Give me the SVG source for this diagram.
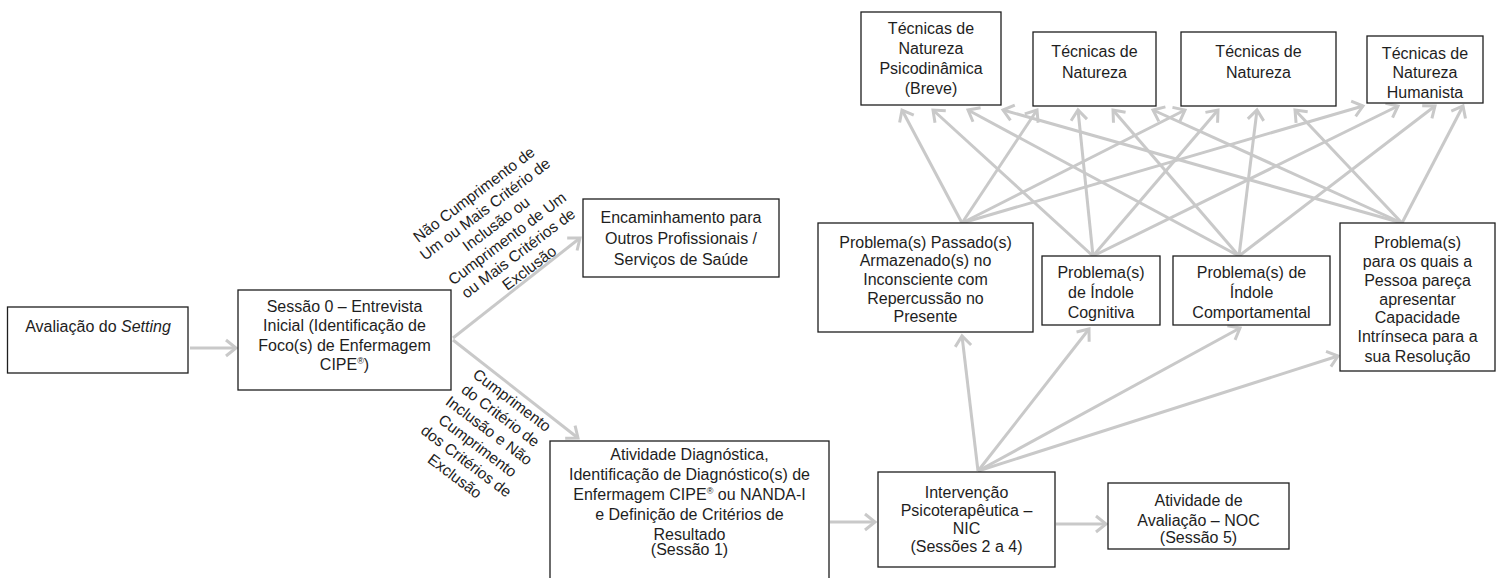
<svg xmlns="http://www.w3.org/2000/svg" width="1504" height="578" viewBox="0 0 1504 578">
<style>
.box{fill:#ffffff;stroke:#1e1e1e;stroke-width:1.3}
.t{font-family:"Liberation Sans",Arial,sans-serif;font-size:16px;fill:#1e1e1e;text-anchor:middle}
.lb{font-family:"Liberation Sans",Arial,sans-serif;font-size:15.5px;fill:#1e1e1e;text-anchor:middle}
.c{fill:none;stroke:#c9c9c9;stroke-width:3;marker-end:url(#ah)}
</style>
<defs>
<marker id="ah" markerUnits="userSpaceOnUse" markerWidth="16" markerHeight="22" viewBox="-13 -11 16 22" refX="0" refY="0" orient="auto">
<path d="M-10,-8 L0,0 L-10,8" fill="none" stroke="#c9c9c9" stroke-width="3"/>
</marker>
</defs>
<rect x="0" y="0" width="1504" height="578" fill="#ffffff"/>
<g id="connectors">
<line class="c" x1="190" y1="348" x2="236" y2="348"/>
<line class="c" x1="453" y1="338" x2="580" y2="238"/>
<line class="c" x1="453" y1="340" x2="578" y2="438"/>
<line class="c" x1="830" y1="522" x2="875" y2="522"/>
<line class="c" x1="1056" y1="524" x2="1106" y2="524"/>
<line class="c" x1="978" y1="471" x2="962" y2="336"/>
<line class="c" x1="978" y1="471" x2="1089" y2="329"/>
<line class="c" x1="978" y1="471" x2="1240" y2="328"/>
<line class="c" x1="978" y1="471" x2="1338" y2="356"/>
<line class="c" x1="962" y1="223" x2="902" y2="110"/>
<line class="c" x1="962" y1="223" x2="1037" y2="110"/>
<line class="c" x1="962" y1="223" x2="1185" y2="110"/>
<line class="c" x1="962" y1="223" x2="1363" y2="106"/>
<line class="c" x1="1093" y1="256" x2="933" y2="110"/>
<line class="c" x1="1093" y1="256" x2="1078" y2="110"/>
<line class="c" x1="1093" y1="256" x2="1218" y2="110"/>
<line class="c" x1="1093" y1="256" x2="1398" y2="106"/>
<line class="c" x1="1239" y1="256" x2="968" y2="110"/>
<line class="c" x1="1239" y1="256" x2="1113" y2="110"/>
<line class="c" x1="1239" y1="256" x2="1257" y2="110"/>
<line class="c" x1="1239" y1="256" x2="1435" y2="106"/>
<line class="c" x1="1402" y1="223" x2="1003" y2="110"/>
<line class="c" x1="1402" y1="223" x2="1153" y2="110"/>
<line class="c" x1="1402" y1="223" x2="1295" y2="110"/>
<line class="c" x1="1402" y1="223" x2="1463" y2="106"/>
<g transform="translate(501.5,231) rotate(-37)">
<text class="lb" x="0" y="-40.5">Não Cumprimento de</text>
<text class="lb" x="0" y="-22.1">Um ou Mais Critério de</text>
<text class="lb" x="0" y="-3.7">Inclusão ou</text>
<text class="lb" x="0" y="14.7">Cumprimento de Um</text>
<text class="lb" x="0" y="33.1">ou Mais Critérios de</text>
<text class="lb" x="0" y="51.5">Exclusão</text>
</g>
<g transform="translate(483.5,438) rotate(37)">
<text class="lb" x="0" y="-42">Cumprimento</text>
<text class="lb" x="0" y="-23">do Critério de</text>
<text class="lb" x="0" y="-4">Inclusão e Não</text>
<text class="lb" x="0" y="15">Cumprimento</text>
<text class="lb" x="0" y="34">dos Critérios de</text>
<text class="lb" x="0" y="53">Exclusão</text>
</g>
</g>
<g id="avaliacao">
<rect class="box" x="7.5" y="307" width="180.5" height="66"/>
<text class="t" x="98" y="332">Avaliação do <tspan font-style="italic">Setting</tspan></text>
</g>
<g id="sessao0">
<rect class="box" x="238" y="290" width="213" height="100"/>
<text class="t" x="344.5" y="311.5">Sessão 0 – Entrevista</text>
<text class="t" x="344.5" y="331">Inicial (Identificação de</text>
<text class="t" x="344.5" y="350.5">Foco(s) de Enfermagem</text>
<text class="t" x="344.5" y="370">CIPE<tspan font-size="9" dy="-6">®</tspan><tspan dy="6">)</tspan></text>
</g>
<g id="encaminhamento">
<rect class="box" x="583" y="199" width="196" height="78"/>
<text class="t" x="681" y="222.5">Encaminhamento para</text>
<text class="t" x="681" y="243.5">Outros Profissionais /</text>
<text class="t" x="681" y="264.5">Serviços de Saúde</text>
</g>
<g id="atividade-diagnostica">
<rect class="box" x="550" y="441" width="279" height="150"/>
<text class="t" x="689.5" y="459.5">Atividade Diagnóstica,</text>
<text class="t" x="689.5" y="479.5">Identificação de Diagnóstico(s) de</text>
<text class="t" x="689.5" y="499.5">Enfermagem CIPE<tspan font-size="9" dy="-6">®</tspan><tspan dy="6"> ou NANDA-I</tspan></text>
<text class="t" x="689.5" y="519.5">e Definição de Critérios de</text>
<text class="t" x="689.5" y="539.5">Resultado</text>
<text class="t" x="689.5" y="554.5">(Sessão 1)</text>
</g>
<g id="intervencao">
<rect class="box" x="878" y="472" width="177" height="95"/>
<text class="t" x="966.5" y="497.5">Intervenção</text>
<text class="t" x="966.5" y="515.5">Psicoterapêutica –</text>
<text class="t" x="966.5" y="533.5">NIC</text>
<text class="t" x="966.5" y="552">(Sessões 2 a 4)</text>
</g>
<g id="avaliacao-noc">
<rect class="box" x="1108" y="483" width="181" height="66"/>
<text class="t" x="1198.5" y="505.5">Atividade de</text>
<text class="t" x="1198.5" y="525.5">Avaliação – NOC</text>
<text class="t" x="1198.5" y="542.5">(Sessão 5)</text>
</g>
<g id="tecnicas-psicodinamica">
<rect class="box" x="861" y="12" width="140" height="93"/>
<text class="t" x="931" y="34">Técnicas de</text>
<text class="t" x="931" y="54">Natureza</text>
<text class="t" x="931" y="74">Psicodinâmica</text>
<text class="t" x="931" y="94">(Breve)</text>
</g>
<g id="tecnicas-2">
<rect class="box" x="1033" y="32" width="123" height="74"/>
<text class="t" x="1094.5" y="57">Técnicas de</text>
<text class="t" x="1094.5" y="78">Natureza</text>
</g>
<g id="tecnicas-3">
<rect class="box" x="1181" y="32" width="155" height="74"/>
<text class="t" x="1258.5" y="57">Técnicas de</text>
<text class="t" x="1258.5" y="78">Natureza</text>
</g>
<g id="tecnicas-humanista">
<rect class="box" x="1367" y="36" width="116" height="67"/>
<text class="t" x="1425" y="58.5">Técnicas de</text>
<text class="t" x="1425" y="78">Natureza</text>
<text class="t" x="1425" y="97.5">Humanista</text>
</g>
<g id="problema-passado">
<rect class="box" x="818" y="223" width="215" height="109"/>
<text class="t" x="925.5" y="247.5">Problema(s) Passado(s)</text>
<text class="t" x="925.5" y="266">Armazenado(s) no</text>
<text class="t" x="925.5" y="285">Inconsciente com</text>
<text class="t" x="925.5" y="303.5">Repercussão no</text>
<text class="t" x="925.5" y="322">Presente</text>
</g>
<g id="problema-cognitiva">
<rect class="box" x="1042" y="256" width="118" height="69"/>
<text class="t" x="1101" y="277.5">Problema(s)</text>
<text class="t" x="1101" y="297.5">de Índole</text>
<text class="t" x="1101" y="317.5">Cognitiva</text>
</g>
<g id="problema-comportamental">
<rect class="box" x="1173" y="256" width="157" height="69"/>
<text class="t" x="1251.5" y="277.5">Problema(s) de</text>
<text class="t" x="1251.5" y="297.5">Índole</text>
<text class="t" x="1251.5" y="317.5">Comportamental</text>
</g>
<g id="problema-capacidade">
<rect class="box" x="1340" y="223" width="155" height="148"/>
<text class="t" x="1417.5" y="247.5">Problema(s)</text>
<text class="t" x="1417.5" y="266.5">para os quais a</text>
<text class="t" x="1417.5" y="285.5">Pessoa pareça</text>
<text class="t" x="1417.5" y="304.5">apresentar</text>
<text class="t" x="1417.5" y="323">Capacidade</text>
<text class="t" x="1417.5" y="342">Intrínseca para a</text>
<text class="t" x="1417.5" y="361.5">sua Resolução</text>
</g>
</svg>
